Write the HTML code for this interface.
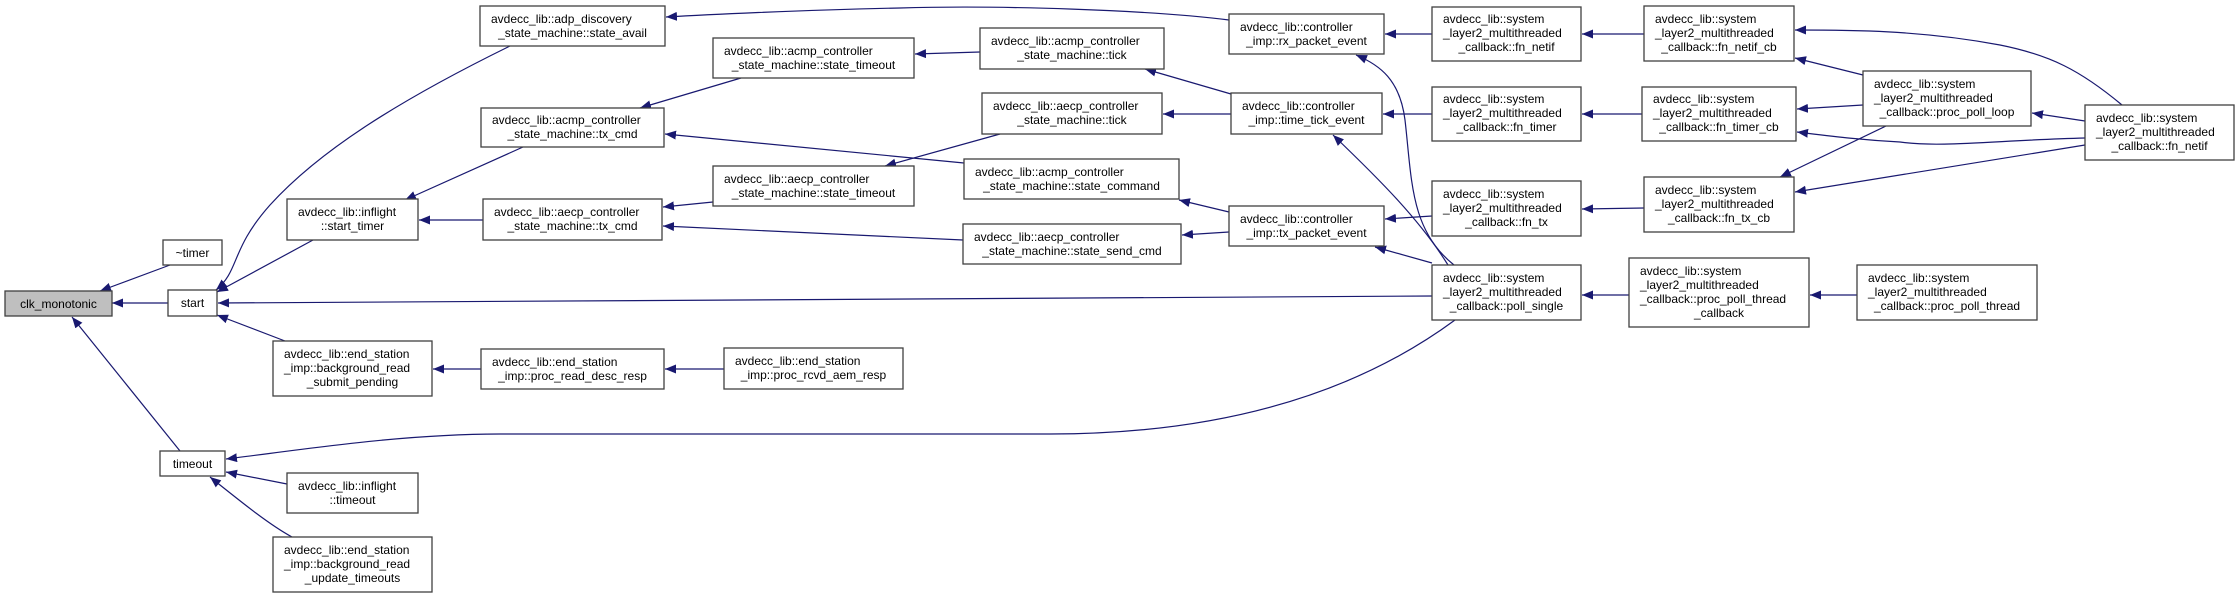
<!DOCTYPE html>
<html><head><meta charset="utf-8"><style>
html,body{margin:0;padding:0;background:#fff}
svg{display:block}
text{font-family:"Liberation Sans",Arial,sans-serif;font-size:12px;fill:#000}
rect{fill:#fff;stroke:#404040;stroke-width:1.3}
.e{fill:none;stroke:#191970;stroke-width:1.2}
</style></head><body>
<svg width="2240" height="598" viewBox="0 0 2240 598" xmlns="http://www.w3.org/2000/svg">
<defs><marker id="a" markerWidth="12" markerHeight="10" refX="11" refY="4.5" orient="auto" markerUnits="userSpaceOnUse"><path d="M0,0 L11,4.5 L0,9 z" fill="#191970"/></marker></defs>
<g marker-end="url(#a)">
<path class="e" d="M170,265 L100,291"/>
<path class="e" d="M168,303 L112,303"/>
<path class="e" d="M180,451 L72,317"/>
<path class="e" d="M510,46 C400,100 320,150 270,205 C230,250 240,270 216,290"/>
<path class="e" d="M313,240 L217,292"/>
<path class="e" d="M285,341 L217,315"/>
<path class="e" d="M1432,296 L218,303"/>
<path class="e" d="M523,147 L405,200"/>
<path class="e" d="M483,220 L419,220"/>
<path class="e" d="M481,369 L433,369"/>
<path class="e" d="M724,369 L665,369"/>
<path class="e" d="M1455,320 C1360,390 1230,434 1050,434 L500,434 C400,434 300,450 226,459"/>
<path class="e" d="M287,484 L226,472"/>
<path class="e" d="M292,537 C270,525 245,505 210,477"/>
<path class="e" d="M1229,20 C1150,10 1000,5 900,8 C800,10 700,15 666,17"/>
<path class="e" d="M741,78 L640,108"/>
<path class="e" d="M964,163 L665,134"/>
<path class="e" d="M713,202 L663,207"/>
<path class="e" d="M963,240 L663,226"/>
<path class="e" d="M980,52 L915,54"/>
<path class="e" d="M1000,134 L885,166"/>
<path class="e" d="M1231,94 L1145,69"/>
<path class="e" d="M1231,114 L1163,114"/>
<path class="e" d="M1229,212 L1179,200"/>
<path class="e" d="M1229,232 L1182,235"/>
<path class="e" d="M1454,265 C1410,230 1412,180 1405,120 C1400,80 1380,65 1356,55"/>
<path class="e" d="M1448,265 C1420,220 1380,180 1333,135"/>
<path class="e" d="M1432,263 L1375,247"/>
<path class="e" d="M1432,34 L1385,34"/>
<path class="e" d="M1432,114 L1383,114"/>
<path class="e" d="M1432,216 L1385,219"/>
<path class="e" d="M1644,34 L1582,34"/>
<path class="e" d="M1642,114 L1582,114"/>
<path class="e" d="M1644,208 L1582,209"/>
<path class="e" d="M1629,295 L1582,295"/>
<path class="e" d="M1857,295 L1810,295"/>
<path class="e" d="M1863,75 L1795,58"/>
<path class="e" d="M1863,105 L1797,109"/>
<path class="e" d="M1886,126 L1780,177"/>
<path class="e" d="M2122,105 C2080,70 2050,55 2000,45 C1920,30 1850,30 1795,30"/>
<path class="e" d="M2085,138 C2000,140 1940,148 1900,142 C1860,140 1830,136 1797,132"/>
<path class="e" d="M2085,145 L1795,192"/>
<path class="e" d="M2085,121 L2032,113"/>
</g>
<g>
<rect x="5" y="291" width="107" height="25" style="fill:#bfbfbf"/><text x="58.5" y="308" text-anchor="middle">clk_monotonic</text>
<rect x="163" y="240" width="59" height="25"/><text x="192.5" y="257" text-anchor="middle">~timer</text>
<rect x="168" y="290" width="49" height="26"/><text x="192.5" y="307" text-anchor="middle">start</text>
<rect x="160" y="451" width="65" height="25"/><text x="192.5" y="468" text-anchor="middle">timeout</text>

<rect x="480" y="6" width="185" height="40"/><text x="491" y="23">avdecc_lib::adp_discovery</text><text x="572.5" y="37" text-anchor="middle">_state_machine::state_avail</text>
<rect x="481" y="108" width="183" height="39"/><text x="492" y="124">avdecc_lib::acmp_controller</text><text x="572.5" y="138" text-anchor="middle">_state_machine::tx_cmd</text>
<rect x="287" y="199" width="131" height="41"/><text x="298" y="216">avdecc_lib::inflight</text><text x="352.5" y="230" text-anchor="middle">::start_timer</text>
<rect x="483" y="199" width="179" height="41"/><text x="494" y="216">avdecc_lib::aecp_controller</text><text x="572.5" y="230" text-anchor="middle">_state_machine::tx_cmd</text>
<rect x="273" y="341" width="159" height="55"/><text x="284" y="358">avdecc_lib::end_station</text><text x="284" y="372">_imp::background_read</text><text x="352.5" y="386" text-anchor="middle">_submit_pending</text>
<rect x="481" y="349" width="183" height="40"/><text x="492" y="366">avdecc_lib::end_station</text><text x="572.5" y="380" text-anchor="middle">_imp::proc_read_desc_resp</text>
<rect x="287" y="473" width="131" height="40"/><text x="298" y="490">avdecc_lib::inflight</text><text x="352.5" y="504" text-anchor="middle">::timeout</text>
<rect x="273" y="537" width="159" height="55"/><text x="284" y="554">avdecc_lib::end_station</text><text x="284" y="568">_imp::background_read</text><text x="352.5" y="582" text-anchor="middle">_update_timeouts</text>

<rect x="713" y="38" width="201" height="40"/><text x="724" y="55">avdecc_lib::acmp_controller</text><text x="813.5" y="69" text-anchor="middle">_state_machine::state_timeout</text>
<rect x="980" y="28" width="184" height="41"/><text x="991" y="45">avdecc_lib::acmp_controller</text><text x="1072" y="59" text-anchor="middle">_state_machine::tick</text>
<rect x="1229" y="14" width="155" height="40"/><text x="1240" y="31">avdecc_lib::controller</text><text x="1306.5" y="45" text-anchor="middle">_imp::rx_packet_event</text>
<rect x="982" y="93" width="180" height="41"/><text x="993" y="110">avdecc_lib::aecp_controller</text><text x="1072" y="124" text-anchor="middle">_state_machine::tick</text>
<rect x="1231" y="93" width="151" height="41"/><text x="1242" y="110">avdecc_lib::controller</text><text x="1306.5" y="124" text-anchor="middle">_imp::time_tick_event</text>
<rect x="713" y="166" width="201" height="40"/><text x="724" y="183">avdecc_lib::aecp_controller</text><text x="813.5" y="197" text-anchor="middle">_state_machine::state_timeout</text>
<rect x="964" y="159" width="215" height="40"/><text x="975" y="176">avdecc_lib::acmp_controller</text><text x="1071.5" y="190" text-anchor="middle">_state_machine::state_command</text>
<rect x="1229" y="206" width="155" height="40"/><text x="1240" y="223">avdecc_lib::controller</text><text x="1306.5" y="237" text-anchor="middle">_imp::tx_packet_event</text>
<rect x="963" y="224" width="218" height="40"/><text x="974" y="241">avdecc_lib::aecp_controller</text><text x="1072" y="255" text-anchor="middle">_state_machine::state_send_cmd</text>
<rect x="724" y="348" width="179" height="41"/><text x="735" y="365">avdecc_lib::end_station</text><text x="813.5" y="379" text-anchor="middle">_imp::proc_rcvd_aem_resp</text>

<rect x="1432" y="265" width="149" height="55"/><text x="1443" y="282">avdecc_lib::system</text><text x="1443" y="296">_layer2_multithreaded</text><text x="1506.5" y="310" text-anchor="middle">_callback::poll_single</text>
<rect x="1432" y="7" width="149" height="54"/><text x="1443" y="23">avdecc_lib::system</text><text x="1443" y="37">_layer2_multithreaded</text><text x="1506.5" y="51" text-anchor="middle">_callback::fn_netif</text>
<rect x="1432" y="87" width="149" height="54"/><text x="1443" y="103">avdecc_lib::system</text><text x="1443" y="117">_layer2_multithreaded</text><text x="1506.5" y="131" text-anchor="middle">_callback::fn_timer</text>
<rect x="1432" y="181" width="149" height="55"/><text x="1443" y="198">avdecc_lib::system</text><text x="1443" y="212">_layer2_multithreaded</text><text x="1506.5" y="226" text-anchor="middle">_callback::fn_tx</text>
<rect x="1644" y="6" width="150" height="55"/><text x="1655" y="23">avdecc_lib::system</text><text x="1655" y="37">_layer2_multithreaded</text><text x="1719" y="51" text-anchor="middle">_callback::fn_netif_cb</text>
<rect x="1642" y="87" width="154" height="54"/><text x="1653" y="103">avdecc_lib::system</text><text x="1653" y="117">_layer2_multithreaded</text><text x="1719" y="131" text-anchor="middle">_callback::fn_timer_cb</text>
<rect x="1644" y="177" width="150" height="55"/><text x="1655" y="194">avdecc_lib::system</text><text x="1655" y="208">_layer2_multithreaded</text><text x="1719" y="222" text-anchor="middle">_callback::fn_tx_cb</text>
<rect x="1629" y="258" width="180" height="69"/><text x="1640" y="275">avdecc_lib::system</text><text x="1640" y="289">_layer2_multithreaded</text><text x="1640" y="303">_callback::proc_poll_thread</text><text x="1719" y="317" text-anchor="middle">_callback</text>
<rect x="1863" y="71" width="168" height="55"/><text x="1874" y="88">avdecc_lib::system</text><text x="1874" y="102">_layer2_multithreaded</text><text x="1947" y="116" text-anchor="middle">_callback::proc_poll_loop</text>
<rect x="2085" y="105" width="149" height="55"/><text x="2096" y="122">avdecc_lib::system</text><text x="2096" y="136">_layer2_multithreaded</text><text x="2159.5" y="150" text-anchor="middle">_callback::fn_netif</text>
<rect x="1857" y="265" width="180" height="55"/><text x="1868" y="282">avdecc_lib::system</text><text x="1868" y="296">_layer2_multithreaded</text><text x="1947" y="310" text-anchor="middle">_callback::proc_poll_thread</text>
</g>
</svg>
</body></html>
